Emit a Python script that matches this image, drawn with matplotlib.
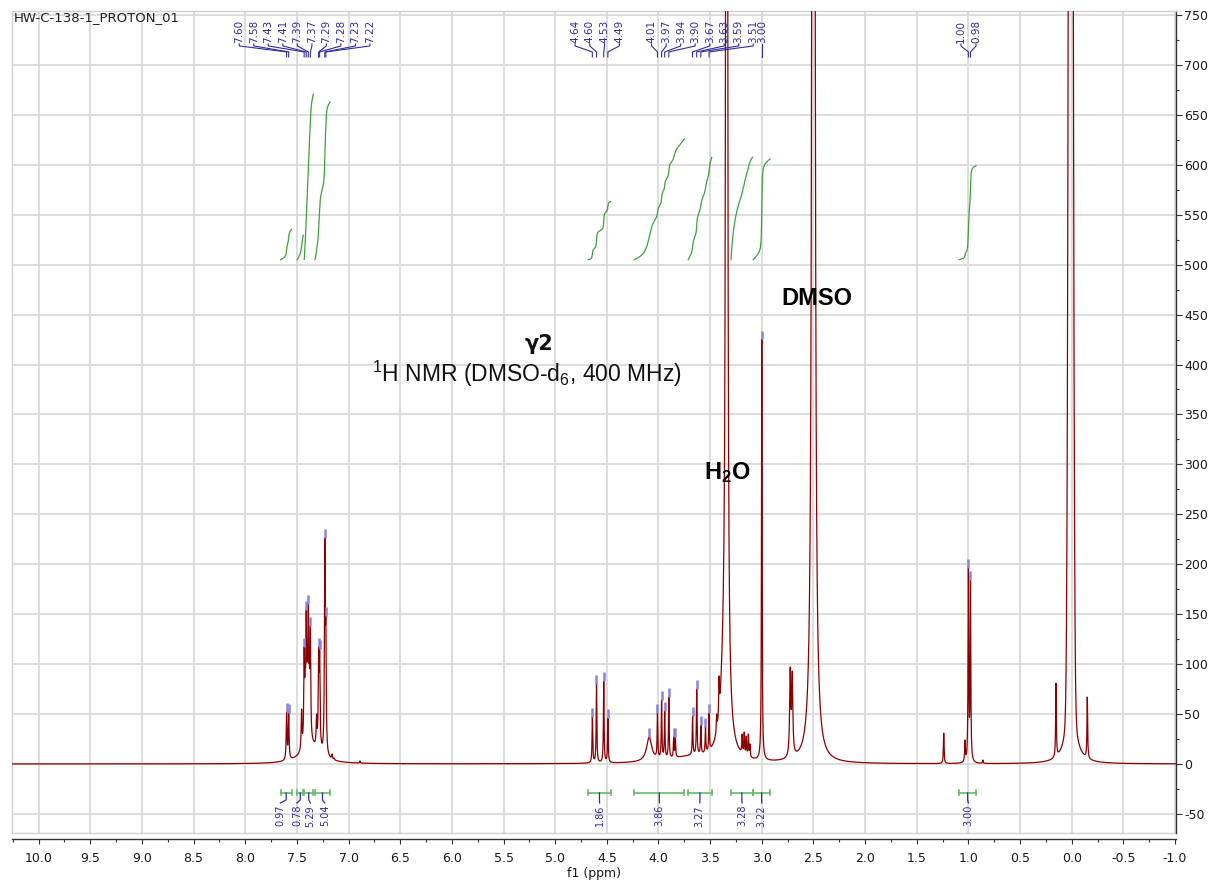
import numpy as np
import matplotlib
matplotlib.use('Agg')
import matplotlib.pyplot as plt
from matplotlib.lines import Line2D
from matplotlib.ticker import MultipleLocator, FormatStrFormatter

plt.rcParams['axes.unicode_minus'] = False
plt.rcParams['mathtext.fontset'] = 'custom'
plt.rcParams['mathtext.rm'] = 'Liberation Sans'
plt.rcParams['mathtext.bf'] = 'Liberation Sans:bold'
plt.rcParams['mathtext.it'] = 'Liberation Sans:italic'
plt.rcParams['font.family'] = ['DejaVu Sans']

# ---------------- data ----------------
sample_name = "HW-C-138-1_PROTON_01"
compound_label = "γ2"
conditions_label = r"$\mathrm{^1}$H NMR (DMSO-d$\mathrm{_6}$, 400 MHz)"
water_label = r"$\mathbf{H_2O}$"
dmso_label = "DMSO"

# picked (labelled) peaks: position (ppm) and peak-top intensity
pick_ppm = [7.60, 7.58, 7.43, 7.41, 7.39, 7.37, 7.29, 7.28, 7.23, 7.22,
            4.64, 4.60, 4.53, 4.49, 4.01, 3.97, 3.94, 3.90,
            3.67, 3.63, 3.59, 3.51, 3.00, 1.00, 0.98]
pick_height = [52, 51, 117, 154, 160, 138, 117, 115, 226, 148,
               47, 80, 83, 46, 51, 64, 53, 67,
               48, 75, 39, 51, 425, 196, 184]
pick_text = ["7.60", "7.58", "7.43", "7.41", "7.39", "7.37", "7.29", "7.28", "7.23", "7.22",
             "4.64", "4.60", "4.53", "4.49", "4.01", "3.97", "3.94", "3.90",
             "3.67", "3.63", "3.59", "3.51", "3.00", "1.00", "0.98"]

# marked but unlabelled peaks
mark_ppm = [4.09, 3.853, 3.837, 3.545]
mark_height = [27, 27, 27, 37]

# other sharp lines (no marker)
line_ppm = [7.455, 7.42, 7.40, 7.38, 7.345, 7.31, 7.265, 7.16, 7.14, 6.89,
            3.455, 3.437, 3.414, 3.19, 3.17, 3.15, 3.13, 3.115,
            2.725, 2.705, 2.32, 1.239, 1.033, 0.86, 0.152, -0.097, -0.151]
line_height = [55, 100, 110, 105, 25, 50, 25, 10, 6, 3,
               25, 50, 88, 30, 32, 28, 30, 20,
               97, 93, 8, 31, 24, 4, 81, 12, 67]

# solvent / broad components: centre, amplitude, half width
solvent_ppm = [3.34, 3.36, 2.50, 7.37, 3.70]
solvent_amp = [6000, 90, 20000, 18, 6]
solvent_hw = [0.004, 0.04, 0.0035, 0.10, 0.25]
ref_ppm = [0.009, 0.009]          # 0 ppm reference signal (gaussian core + wings)
ref_amp = [2200, 100]
ref_hw = [0.0165, 0.04]

# integrals: region start, end (ppm) and value
int_start = [7.657, 7.497, 7.429, 7.325, 4.680, 4.234, 3.712, 3.298, 3.082, 1.088]
int_end = [7.551, 7.439, 7.342, 7.180, 4.463, 3.750, 3.485, 3.088, 2.921, 0.926]
int_value = [0.97, 0.78, 5.29, 5.04, 1.86, 3.86, 3.27, 3.28, 3.22, 3.00]

# label layout (ppm positions of the rotated label texts)
pick_slot = [8.058, 7.918, 7.777, 7.636, 7.496, 7.355, 7.215, 7.075, 6.933, 6.793,
             4.808, 4.665, 4.522, 4.379, 4.066, 3.925, 3.785, 3.645, 3.504, 3.364,
             3.224, 3.083, 3.000, 1.072, 0.926]
int_slot = [7.66, 7.50, 7.37, 7.23, 4.57, 3.99, 3.60, 3.19, 3.00, 1.00]

# ---------------- model spectrum ----------------
def lor(x, c, w):
    return 1.0 / (1.0 + ((x - c) / w) ** 2)

def gau(x, c, s):
    return np.exp(-0.5 * ((x - c) / s) ** 2)

x = np.linspace(10.3, -1.06, 90000)

def background(v):
    v = np.asarray(v, dtype=float)
    out = np.zeros_like(v)
    for c, a, w in zip(solvent_ppm, solvent_amp, solvent_hw):
        out += a * lor(v, c, w)
    out += ref_amp[0] * gau(v, ref_ppm[0], ref_hw[0])
    out += ref_amp[1] * lor(v, ref_ppm[1], ref_hw[1])
    return out

c_all = np.array(pick_ppm + mark_ppm + line_ppm, dtype=float)
h_all = np.array(pick_height + mark_height + line_height, dtype=float)
w_all = np.full(len(c_all), 0.0038)
w_all[c_all > 7.0] = 0.0045
w_all[np.isclose(c_all, 4.09)] = 0.03
w_all[np.isclose(c_all, 3.00)] = 0.0035
w_all[(c_all > 2.6) & (c_all < 2.8)] = 0.0065

A = lor(c_all[:, None], c_all[None, :], w_all[None, :])
b = h_all - background(c_all)
amp = np.clip(b, 0, None)
for _ in range(300):
    for i in range(len(amp)):
        others = A[i] @ amp - amp[i]
        amp[i] = max(b[i] - others, 0.0)

y = background(x)
for c, a, w in zip(c_all, amp, w_all):
    y += a * lor(x, c, w)

def model(v):
    v = np.asarray(v, dtype=float)
    out = background(v)
    for c, a, w in zip(c_all, amp, w_all):
        out = out + a * lor(v, c, w)
    return out

# ---------------- figure ----------------
W, H = 1214, 884
fig = plt.figure(figsize=(W / 100, H / 100), dpi=100)
ax = fig.add_axes([11.7 / W, 1 - 833 / H, (1176 - 11.7) / W, (833 - 11) / H])

xl, xr = 10.261, -1.0097
yb, yt = -69.1, 754.0
ax.set_xlim(xl, xr)
ax.set_ylim(yb, yt)

gridc = '#dadada'
ax.xaxis.set_major_locator(MultipleLocator(0.5))
ax.xaxis.set_minor_locator(MultipleLocator(0.25))
ax.yaxis.set_major_locator(MultipleLocator(50))
ax.yaxis.set_minor_locator(MultipleLocator(25))
ax.grid(True, which='major', color=gridc, lw=1.3, zorder=0)
ax.set_axisbelow(True)

ax.yaxis.tick_right()
ax.xaxis.set_major_formatter(FormatStrFormatter('%.1f'))
ax.tick_params(axis='x', which='major', direction='out', length=3.6, width=0.8,
               colors='#333333', labelcolor='#1a1a1a', labelsize=9, pad=6)
ax.tick_params(axis='x', which='minor', direction='out', length=2.2, width=0.8, colors='#333333')
ax.tick_params(axis='y', which='major', direction='out', length=4, width=0.8,
               colors='#333333', labelcolor='#1a1a1a', labelsize=9, pad=2)
ax.tick_params(axis='y', which='minor', direction='out', length=2.4, width=0.8, colors='#333333')

for s in ['left', 'top']:
    ax.spines[s].set_color('#d0d0d0')
    ax.spines[s].set_linewidth(1.0)
ax.spines['right'].set_color('#333333')
ax.spines['right'].set_linewidth(1.0)
ax.spines['bottom'].set_position(('outward', 4.3))
ax.spines['bottom'].set_color('#333333')
ax.spines['bottom'].set_linewidth(1.0)
ax.add_line(Line2D([0, 1], [0, 0], transform=ax.transAxes, color='#d0d0d0', lw=1.0, clip_on=False))

ax.set_xlabel('f1 (ppm)', fontsize=9, color='#1a1a1a', labelpad=1)

# spectrum
ax.plot(x, y, color='#8b0000', lw=0.9, zorder=3)

# peak markers
blue = '#2e2e9e'
for c in pick_ppm + mark_ppm:
    top = float(model(c))
    ax.plot([c, c], [top + 0.5, top + 9], color='#8585dd', lw=1.8, zorder=4,
            solid_capstyle='butt')

# peak labels with connectors
for c, s, t in zip(pick_ppm, pick_slot, pick_text):
    ax.text(s, 722, t, rotation=90, ha='center', va='bottom', fontsize=7.5,
            color=blue, zorder=5)
    ax.plot([s, s, c, c], [721, 719, 713, 708], color=blue, lw=0.8, zorder=5)

# integrals
green_curve = '#3f9f3f'
green_brk = '#66bb66'
for s, e, v, sl in zip(int_start, int_end, int_value, int_slot):
    m = (x <= s) & (x >= e)
    cum = np.cumsum(y[m])
    ax.plot(x[m], 505 + v * 31.3 * cum / cum[-1], color=green_curve, lw=0.9, zorder=4)
    ax.plot([s, e], [-29, -29], color=green_brk, lw=1.2, zorder=4)
    ax.plot([s, s], [-31.5, -26.5], color=green_brk, lw=1.2, zorder=4)
    ax.plot([e, e], [-31.5, -26.5], color=green_brk, lw=1.2, zorder=4)
    cen = 0.5 * (s + e)
    ax.plot([cen, cen, sl], [-29, -36, -39], color=blue, lw=0.9, zorder=4)
    ax.text(sl, -41, f"{v:.2f}", rotation=90, ha='center', va='top', fontsize=7,
            color=blue, zorder=5)

# texts
ax.text(0.002, 1 - 7 / 822, sample_name, transform=ax.transAxes, ha='left', va='center',
        fontsize=9.5, color='#222222')
ax.text(5.157, 421, compound_label, ha='center', va='center', fontsize=15,
        fontweight='bold', color='#111111', family=['DejaVu Sans'])
ax.text(5.27, 391, conditions_label, ha='center', va='center', fontsize=16.5,
        color='#111111', family=['Liberation Sans'])
ax.text(3.337, 292, water_label, ha='center', va='center', fontsize=17, color='#000000')
ax.text(2.465, 466, dmso_label, ha='center', va='center', fontsize=17,
        fontweight='bold', color='#000000', family=['Liberation Sans'])

fig.savefig('out.png', dpi=100, facecolor='white')
